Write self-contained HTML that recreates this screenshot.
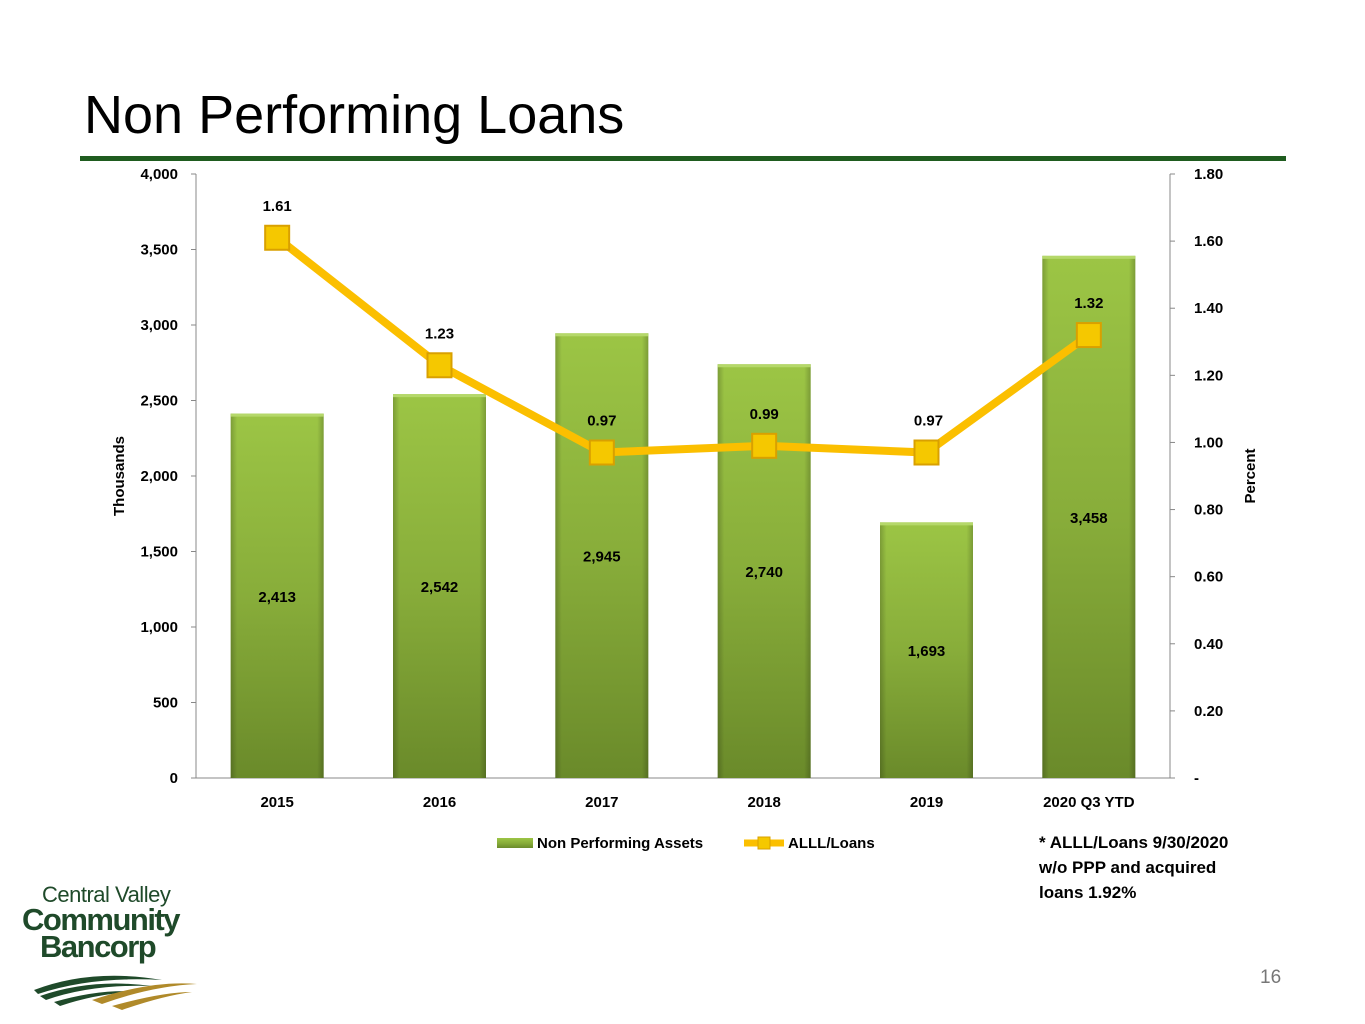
<!DOCTYPE html>
<html><head><meta charset="utf-8"><style>
body{margin:0;width:1365px;height:1024px;background:#fff;font-family:"Liberation Sans",sans-serif;overflow:hidden;position:relative}
.t{position:absolute;left:84px;top:84px;font-size:54px;color:#000;font-family:"Liberation Sans",sans-serif}
.rule{position:absolute;left:80px;top:156px;width:1206px;height:5px;background:#1f5c1f}
svg{position:absolute;left:0;top:0}
text{font-family:"Liberation Sans",sans-serif;font-weight:bold;font-size:15px;fill:#000}
</style></head><body>
<div class="t">Non Performing Loans</div>
<div class="rule"></div>
<svg width="1365" height="1024" id="c">
<defs>
<linearGradient id="bg" x1="0" y1="0" x2="0" y2="1"><stop offset="0" stop-color="#9cc545"/><stop offset="0.5" stop-color="#88ad3a"/><stop offset="1" stop-color="#6a8a2a"/></linearGradient>
<linearGradient id="bh" x1="0" y1="0" x2="1" y2="0"><stop offset="0" stop-color="#000" stop-opacity="0.2"/><stop offset="0.07" stop-color="#000" stop-opacity="0"/><stop offset="0.93" stop-color="#000" stop-opacity="0"/><stop offset="1" stop-color="#000" stop-opacity="0.2"/></linearGradient>
</defs>
<g id="g"></g>
</svg>
<div style="position:absolute;left:1039px;top:830px;font-weight:bold;font-size:17px;line-height:25px">* ALLL/Loans 9/30/2020<br>w/o PPP and acquired<br>loans 1.92%</div>
<div style="position:absolute;left:1260px;top:967px;font-size:19px;color:#777">16</div>
<div style="position:absolute;left:22px;top:884px;width:180px;color:#1f4a2a;line-height:1">
<div style="font-size:22px;letter-spacing:-0.5px;padding-left:20px">Central Valley</div>
<div style="font-size:31px;font-weight:bold;letter-spacing:-1.5px;margin-top:-2px">Community</div>
<div style="font-size:31px;font-weight:bold;letter-spacing:-1.5px;padding-left:18px;margin-top:-4px">Bancorp</div>
<svg width="170" height="40" style="position:absolute;left:10px;top:86px"><path d="M2 20 Q60 -2 130 10 Q60 6 6 24Z M8 26 Q60 8 120 16 Q60 14 14 30Z M22 32 Q70 18 110 22 Q70 22 28 36Z" fill="#1f4a2a"/><path d="M60 30 Q120 10 165 14 Q120 16 70 34Z M80 36 Q130 22 160 22 Q130 26 90 40Z" fill="#b08a2a"/></svg>
</div>
<script>
const categories=["2015","2016","2017","2018","2019","2020 Q3 YTD"];
const npa=[2413,2542,2945,2740,1693,3458];
const alll=[1.61,1.23,0.97,0.99,0.97,1.32];
const leftTicks=[0,500,1000,1500,2000,2500,3000,3500,4000];
const rightTicks=[0,0.2,0.4,0.6,0.8,1.0,1.2,1.4,1.6,1.8];
const X0=196,X1=1170,YT=174,YB=778;
const cw=(X1-X0)/categories.length;
const xc=i=>X0+cw*(i+0.5);
const yl=v=>YB-(v/4000)*(YB-YT);
const yr=v=>YB-(v/1.8)*(YB-YT);
const g=document.getElementById('g');const NS='http://www.w3.org/2000/svg';
function el(t,a,txt){const e=document.createElementNS(NS,t);for(const k in a)e.setAttribute(k,a[k]);if(txt!=null)e.textContent=txt;g.appendChild(e);return e;}
let e;
e=el('line',{x1:X0,y1:YT,x2:X0,y2:YB,stroke:'#888'});
e=el('line',{x1:X1,y1:YT,x2:X1,y2:YB,stroke:'#888'});
e=el('line',{x1:X0,y1:YB,x2:X1,y2:YB,stroke:'#888'});
leftTicks.forEach(v=>{el('line',{x1:X0-5,x2:X0,y1:yl(v),y2:yl(v),stroke:'#888'});
e=el('text',{x:X0-18,y:yl(v)+5,'text-anchor':'end'},v.toLocaleString('en-US'));
});
rightTicks.forEach(v=>{el('line',{x1:X1,x2:X1+5,y1:yr(v),y2:yr(v),stroke:'#888'});
e=el('text',{x:X1+24,y:yr(v)+5},v===0?'-':v.toFixed(2));
});
const bw=93;
categories.forEach((c,i)=>{const y=yl(npa[i]);
e=el('rect',{x:xc(i)-bw/2,y:y,width:bw,height:YB-y,fill:'url(#bg)'});

el('rect',{x:xc(i)-bw/2,y:y,width:bw,height:YB-y,fill:'url(#bh)'});
el('rect',{x:xc(i)-bw/2,y:y,width:bw,height:3,fill:'#b5d86a'});
e=el('text',{x:xc(i),y:(y+YB)/2+6,'text-anchor':'middle'},npa[i].toLocaleString('en-US'));

e=el('text',{x:xc(i),y:807,'text-anchor':'middle'},c);
});
e=el('polyline',{points:alll.map((v,i)=>xc(i)+','+yr(v)).join(' '),fill:'none',stroke:'#fbbf00','stroke-width':8});

alll.forEach((v,i)=>{e=el('rect',{x:xc(i)-12,y:yr(v)-12,width:24,height:24,fill:'#f5c800',stroke:'#d9a000','stroke-width':2});

e=el('text',{x:xc(i)+(i==4?2:0),y:yr(v)-27,'text-anchor':'middle'},v.toFixed(2));
});
e=el('text',{x:0,y:0,transform:'translate(124,476) rotate(-90)','text-anchor':'middle'},'Thousands');

e=el('text',{x:0,y:0,transform:'translate(1255,476) rotate(-90)','text-anchor':'middle'},'Percent');

e=el('rect',{x:497,y:838,width:36,height:10,fill:'url(#bg)'});
e=el('text',{x:537,y:848},'Non Performing Assets');
e=el('line',{x1:744,x2:784,y1:843,y2:843,stroke:'#fbbf00','stroke-width':7});
el('rect',{x:758,y:837,width:12,height:12,fill:'#f5c800',stroke:'#d9a000'});
e=el('text',{x:788,y:848},'ALLL/Loans');
</script>
</body></html>
